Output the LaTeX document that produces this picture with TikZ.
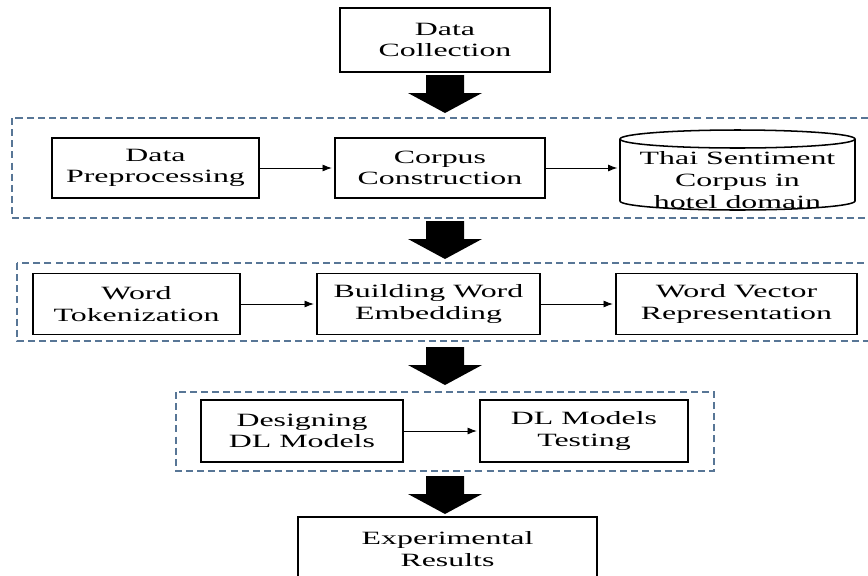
\documentclass[tikz,border=0pt]{standalone}
\usepackage{fontspec}
\setmainfont{Liberation Serif}[FakeStretch=1.7]
\usetikzlibrary{arrows.meta}

\definecolor{stageblue}{RGB}{88,118,150}

\tikzset{
  stage/.style={draw=stageblue, line width=1.2pt, dash pattern=on 6pt off 3.5pt},
  bigarrow/.pic={
    \fill[black] (-19,0) -- (19,0) -- (19,18) -- (37,18) -- (0,38)
      -- (-37,18) -- (-19,18) -- cycle;
  }
}

\begin{document}
\begin{tikzpicture}[x=0.03cm, y=-0.03cm, font=\fontsize{16}{18.5}\selectfont]

      \clip (0,0) rectangle (868,575);
      \fill[white] (0,0) rectangle (868,575);

      % the three dashed stages
      \draw[stage] (12,118) rectangle (880,218);
      \draw[stage] (17,263) rectangle (880,341);
      \draw[stage] (176,392) rectangle (714,471);

      % corpus store
      \draw[line width=1.3pt] (620,139) -- (620,201)
        arc[start angle=180, end angle=0, x radius=117.5, y radius=9] -- (855,139);
      \draw[line width=1.3pt] (737.5,139) ellipse[x radius=117.5, y radius=9];

      \begin{scope}[every node/.style={draw,line width=1.3pt,align=center,inner sep=0pt,minimum height=1.83cm}]
        \node (collect) at (445,40)    [minimum width=6.3cm,minimum height=1.92cm] {Data\\Collection};
        \node (prep)    at (155.5,168) [minimum width=6.21cm,minimum height=1.8cm] {Data\\Preprocessing};
        \node (corpus)  at (440,168)   [minimum width=6.3cm,minimum height=1.8cm] {Corpus\\Construction};
        \node (tok)     at (136.5,304) [minimum width=6.21cm] {Word\\Tokenization};
        \node (embed)   at (428.5,304) [minimum width=6.69cm] {Building Word\\Embedding};
        \node (vec)     at (736.5,304) [minimum width=7.23cm] {Word Vector\\Representation};
        \node (design)  at (302,431)   [minimum width=6.06cm,minimum height=1.86cm] {Designing\\DL Models};
        \node (test)    at (584,431)   [minimum width=6.24cm,minimum height=1.86cm] {DL Models\\Testing};
        \node (results) at (447.5,549) [minimum width=8.97cm,minimum height=1.92cm] {Experimental\\Results};
      \end{scope}

      \node (thaidb) at (737.5,180) [align=center,inner sep=0pt,minimum width=7.05cm] {Thai Sentiment\\Corpus in\\hotel domain};

      \begin{scope}[every edge/.style={draw,line width=0.8pt,-{Latex[length=8pt,width=6pt]},shorten >=2pt}]
        \path (prep)   edge (corpus);
        \path (corpus) edge (corpus -| thaidb.west);
        \path (tok)    edge (embed);
        \path (embed)  edge (vec);
        \path (design) edge (test);
      \end{scope}

      \pic at (445,75)  {bigarrow};
      \pic at (445,221) {bigarrow};
      \pic at (445,347) {bigarrow};
      \pic at (445,476) {bigarrow};

    \end{tikzpicture}
\end{document}
